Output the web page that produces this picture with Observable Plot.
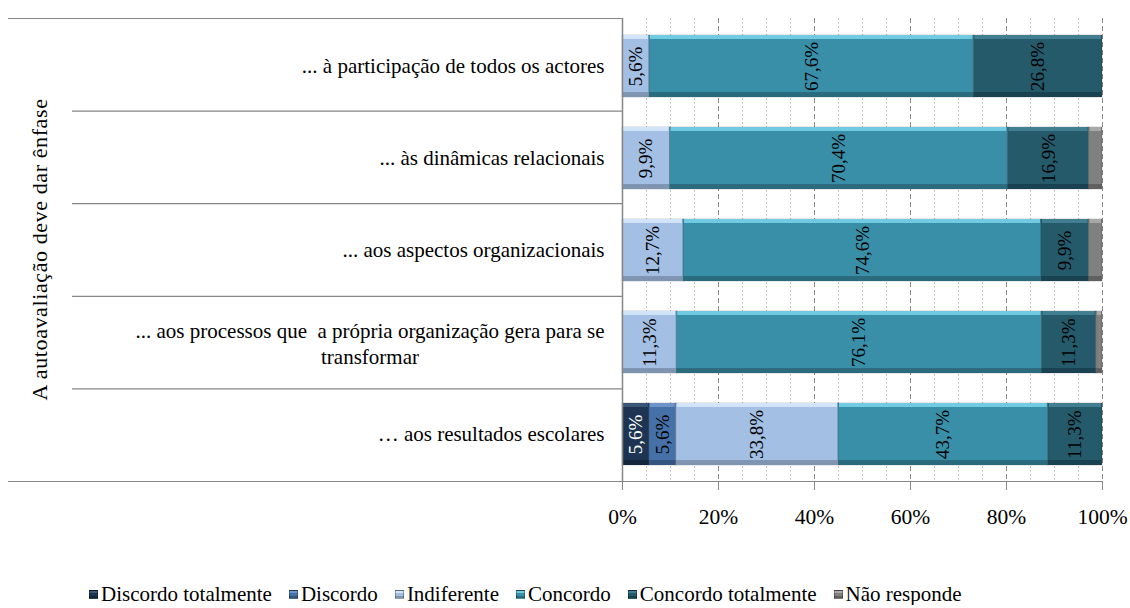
<!DOCTYPE html>
<html>
<head>
<meta charset="utf-8">
<script src="https://cdn.jsdelivr.net/npm/d3@7"></script>
<script src="https://cdn.jsdelivr.net/npm/@observablehq/plot@0.6"></script>
<style>
  body { margin: 0; background: #fff; font-family: "Liberation Serif", "DejaVu Serif", serif; overflow: hidden; }
  #chart svg { display: block; }
  #legend { position: relative; height: 22px; padding-top: 13px; display: flex; align-items: center; padding-left: 89px; font-size: 21px; line-height: 22px; color: #000; }
  #legend .item { display: flex; align-items: center; margin-right: 17px; }
  #legend .sw { width: 9px; height: 9px; margin-right: 3px; box-sizing: border-box; border: 1px solid rgba(0,0,0,0.3); }
  g[aria-label^="x-axis"] line, g[aria-label^="x-axis"] path { stroke: #868686; }
</style>
</head>
<body>
<div id="chart"></div>
<div id="legend"></div>
<script>
// ---- data ----
const categories = [
  "... à participação de todos os actores",
  "... às dinâmicas relacionais",
  "... aos aspectos organizacionais",
  "... aos processos que  a própria organização gera para se transformar",
  "… aos resultados escolares"
];
const categoryLine1 = [
  "... à participação de todos os actores",
  "... às dinâmicas relacionais",
  "... aos aspectos organizacionais",
  "... aos processos que  a própria organização gera para se",
  "… aos resultados escolares"
];
const categoryLine2 = ["", "", "", "transformar", ""];
const series = ["Discordo totalmente", "Discordo", "Indiferente", "Concordo", "Concordo totalmente", "Não responde"];
const discordoTotalmente = [0, 0, 0, 0, 5.6];
const discordo = [0, 0, 0, 0, 5.6];
const indiferente = [5.6, 9.9, 12.7, 11.3, 33.8];
const concordo = [67.6, 70.4, 74.6, 76.1, 43.7];
const concordoTotalmente = [26.8, 16.9, 9.9, 11.3, 11.3];
const naoResponde = [0, 2.8, 2.8, 1.3, 0];
const xTicks = [0, 20, 40, 60, 80, 100];
const minorTicks = [5, 10, 15, 25, 30, 35, 45, 50, 55, 65, 70, 75, 85, 90, 95];
const yTitle = "A autoavaliação deve dar ênfase";

// ---- styles ----
const baseColors  = ["#1d3552", "#4671a8", "#a3bfe3", "#3a8fa8", "#255a6b", "#808080"];
const lightColors = ["#3a5576", "#6d95c9", "#d2e4f7", "#70cbe1", "#417f91", "#a9a9a9"];
const darkColors  = ["#14263b", "#34557f", "#7e94b1", "#2b6b7e", "#1a4250", "#606060"];
const labelColors = ["#fff", "#000", "#000", "#000", "#000", "#000"];
const showLabel   = [true, true, true, true, true, false];

const seriesValues = [discordoTotalmente, discordo, indiferente, concordo, concordoTotalmente, naoResponde];
const data = [];
categories.forEach((c, ci) => {
  series.forEach((s, si) => {
    const v = seriesValues[si][ci];
    if (v > 0) data.push({cat: c, series: s, si, value: v});
  });
});

const W = 1130, H = 570;
const mTop = 18, mBottom = 89, mLeft = 622, mRight = 28;
const padInner = 0.33;
const step = (H - mTop - mBottom) / categories.length;
const bw = step * (1 - padInner);
const font = '"Liberation Serif", "DejaVu Serif", serif';
const labelSize = 21;
const fmt = v => v.toFixed(1).replace(".", ",") + "%";

// measure first line of wrapped label for centering the second line
const ctx = document.createElement("canvas").getContext("2d");
ctx.font = labelSize + "px " + font;

const stackOpts = (extra) => Plot.stackX({x: "value", y: "cat", z: "series", order: series, ...extra});

const frameLines = (index, scales, values, dims) => {
  const g = d3.create("svg:g");
  const top = dims.marginTop, bottom = dims.height - dims.marginBottom;
  const n = categories.length;
  const st = (bottom - top) / n;
  const x0 = dims.marginLeft, x1 = dims.width - dims.marginRight;
  for (let i = 0; i <= n; i++) {
    const yy = top + i * st;
    const left = (i === 0 || i === n) ? 8 : 72;
    const right = i === n ? x1 : x0;
    g.append("line").attr("x1", left).attr("x2", right).attr("y1", yy + 0.5).attr("y2", yy + 0.5)
      .attr("stroke", "#868686").attr("stroke-width", 1.2);
  }
  // rotated axis title, centred on the plot frame
  g.append("text")
    .attr("transform", `translate(40,${(top + bottom) / 2}) rotate(-90)`)
    .attr("text-anchor", "middle").attr("dy", "0.32em")
    .attr("font-family", font).attr("font-size", 22).attr("letter-spacing", "0.6px").attr("fill", "#000")
    .text(yTitle);
  return g.node();
};

const plot = Plot.plot({
  width: W, height: H,
  marginTop: mTop, marginBottom: mBottom, marginLeft: mLeft, marginRight: mRight,
  style: {fontFamily: font, fontSize: "21.5px", color: "#000", background: "#fff"},
  x: {domain: [0, 100], ticks: xTicks, tickFormat: d => d + "%", tickSize: 9, tickPadding: 18, label: null},
  y: {domain: categories, paddingInner: padInner, paddingOuter: padInner / 2, axis: null, label: null},
  marks: [
    Plot.ruleX(minorTicks, {stroke: "#b5b5b5", strokeDasharray: "1.5,2.5", strokeWidth: 1}),
    Plot.ruleX(xTicks.slice(1), {stroke: "#8a8a8a", strokeDasharray: "5,3", strokeWidth: 1}),
    Plot.barX(data, stackOpts({fill: d => baseColors[d.si], stroke: "#000", strokeOpacity: 0.18, strokeWidth: 1})),
    Plot.barX(data, stackOpts({fill: d => lightColors[d.si], insetBottom: bw - 4, insetLeft: 1, insetRight: 1})),
    Plot.barX(data, stackOpts({fill: d => darkColors[d.si], insetTop: bw - 5})),
    Plot.text(data.filter(d => showLabel[d.si]), stackOpts({
      text: d => fmt(d.value), rotate: -90, fontSize: 19, fontFamily: font,
      fill: d => labelColors[d.si]
    })),
    Plot.ruleX([0], {stroke: "#868686", strokeWidth: 1.5}),
    frameLines,
    Plot.text(categories.map((c, i) => ({cat: c, t: categoryLine1[i]})).filter((d, i) => !categoryLine2[i]), {
      y: "cat", text: "t", frameAnchor: "left", textAnchor: "end", dx: -18, fontSize: labelSize, fontFamily: font, fill: "#000"
    }),
    Plot.text(categories.map((c, i) => ({cat: c, t: categoryLine1[i]})).filter((d, i) => categoryLine2[i]), {
      y: "cat", text: "t", frameAnchor: "left", textAnchor: "end", dx: -18, dy: -11, fontSize: labelSize, fontFamily: font, fill: "#000"
    }),
    ...categories.map((c, i) => ({cat: c, t: categoryLine2[i], w: ctx.measureText(categoryLine1[i]).width})).filter(d => d.t).map(d =>
      Plot.text([d], {y: "cat", text: "t", frameAnchor: "left", textAnchor: "middle", dx: -18 - d.w / 2, dy: 15, fontSize: labelSize, fontFamily: font, fill: "#000"})
    )
  ]
});
document.getElementById("chart").append(plot);

// ---- legend ----
const legend = d3.select("#legend");
series.forEach((s, i) => {
  const item = legend.append("div").attr("class", "item");
  item.append("span").attr("class", "sw")
    .style("background", `linear-gradient(${lightColors[i]} 0 30%, ${baseColors[i]} 30% 75%, ${darkColors[i]} 75%)`);
  item.append("span").text(s);
});
</script>
</body>
</html>
